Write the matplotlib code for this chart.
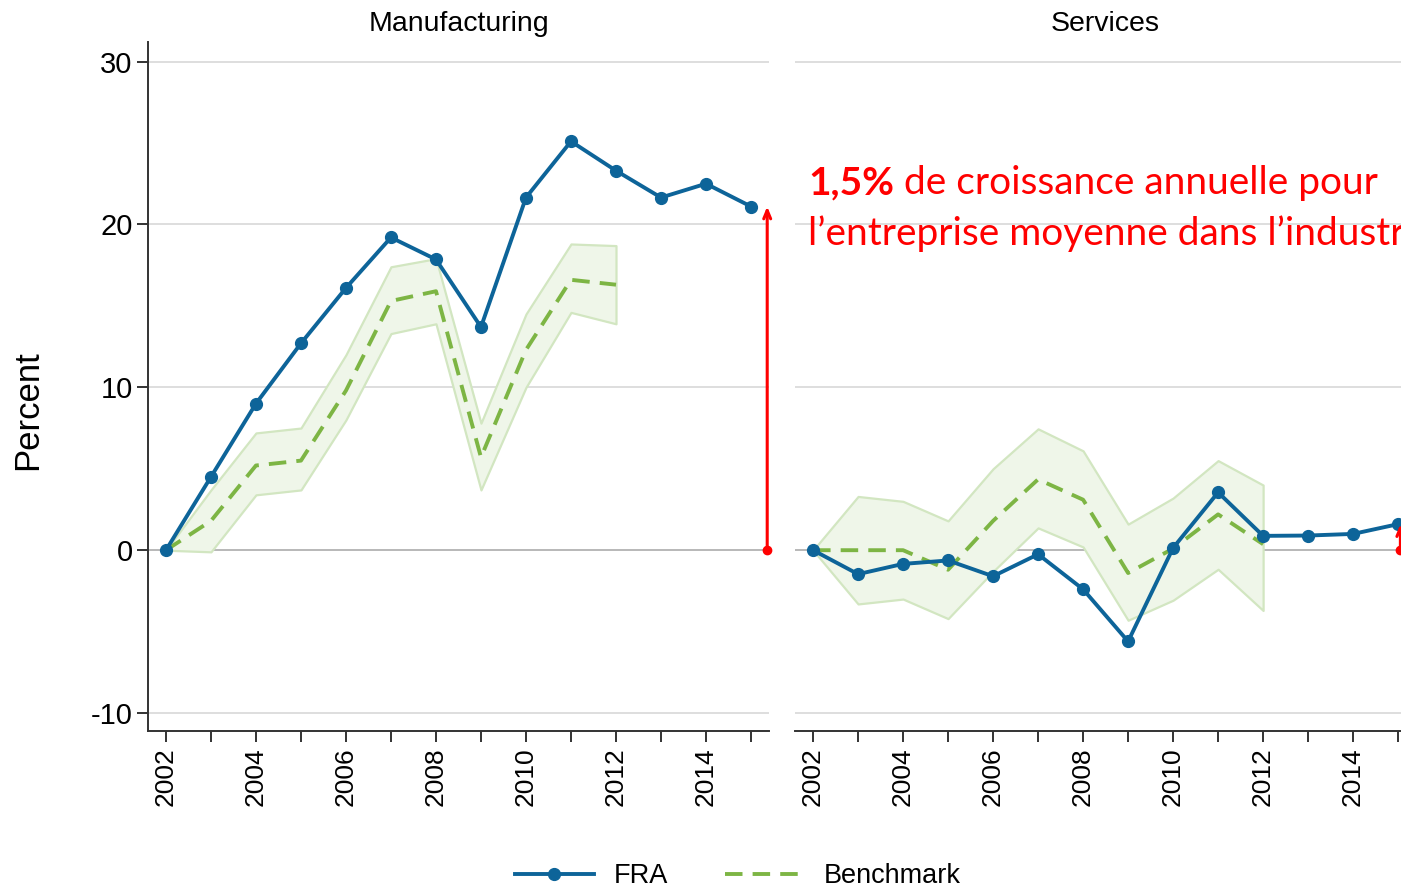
import numpy as np
import matplotlib
matplotlib.use("Agg")
import matplotlib.pyplot as plt
from matplotlib.lines import Line2D

plt.rcParams['font.family'] = ['Liberation Sans', 'DejaVu Sans']

# annees
years = list(range(2002, 2016))
bench_years = list(range(2002, 2013))

# Manufacturing
fra_manuf = [0, 4.5, 9.0, 12.7, 16.1, 19.2, 17.85, 13.7, 21.65, 25.1, 23.3, 21.65, 22.5, 21.1]
bench_manuf = [0, 1.8, 5.2, 5.5, 9.8, 15.3, 15.9, 5.7, 12.3, 16.6, 16.3]
bench_manuf_hi = [0, 3.7, 7.2, 7.5, 12.0, 17.4, 17.9, 7.8, 14.5, 18.8, 18.7]
bench_manuf_lo = [0, -0.1, 3.4, 3.7, 8.0, 13.3, 13.9, 3.7, 10.0, 14.6, 13.9]

# Services
fra_serv = [0, -1.47, -0.84, -0.63, -1.6, -0.25, -2.4, -5.6, 0.14, 3.55, 0.88, 0.9, 1.0, 1.6]
bench_serv = [0, 0, 0, -1.2, 1.8, 4.35, 3.1, -1.4, 0.1, 2.2, 0.37]
bench_serv_hi = [0, 3.3, 3.0, 1.8, 5.0, 7.45, 6.1, 1.6, 3.2, 5.5, 4.0]
bench_serv_lo = [0, -3.3, -3.0, -4.2, -1.3, 1.37, 0.2, -4.3, -3.07, -1.17, -3.7]

panel_titles = ["Manufacturing", "Services"]
yticks = [-10, 0, 10, 20, 30]
xlabels_years = list(range(2002, 2016, 2))

blue = "#0d6499"
green = "#7db544"
band_face = "#eff6e9"
band_edge = "#d2e6c1"
red = "#ff0000"

fig = plt.figure(figsize=(14.01, 8.88), dpi=100)
ax1 = fig.add_axes([0.1056, 0.1768, 0.4433, 0.7759])
ax2 = fig.add_axes([0.5675, 0.1768, 0.4433, 0.7759])

panels = [
    (ax1, fra_manuf, bench_manuf, bench_manuf_lo, bench_manuf_hi),
    (ax2, fra_serv, bench_serv, bench_serv_lo, bench_serv_hi),
]

for i, (ax, fra, bench, lo, hi) in enumerate(panels):
    ax.fill_between(bench_years, lo, hi, facecolor=band_face, edgecolor=band_edge,
                    linewidth=1.6, zorder=2)
    ax.plot(bench_years, bench, color=green, linestyle=(0, (4.5, 2.6)), linewidth=2.8, zorder=3)
    ax.plot(years, fra, color=blue, linewidth=2.8, marker='o', markersize=8.5, zorder=4)

    ax.set_xlim(2001.6, 2015.4)
    ax.set_ylim(-11.1, 31.2)
    ax.set_yticks(yticks)
    ax.set_xticks(years)
    ax.set_xticklabels([str(y) if y in xlabels_years else "" for y in years],
                       rotation=90, fontsize=19)
    for yt in yticks:
        ax.axhline(yt, color="#b8b8b8" if yt == 0 else "#dedede", linewidth=1.4, zorder=1)

    ax.spines['top'].set_visible(False)
    ax.spines['right'].set_visible(False)
    ax.spines['bottom'].set_color("#333333")
    ax.spines['bottom'].set_linewidth(1.4)
    ax.spines['left'].set_color("#333333")
    ax.spines['left'].set_linewidth(1.4)
    ax.tick_params(axis='x', length=8, width=1.4, color="#333333", pad=4)
    ax.tick_params(axis='y', length=8, width=1.4, color="#333333", pad=3)
    ax.set_title(panel_titles[i], fontsize=20.5, pad=8)

ax1.set_yticklabels([str(y) for y in yticks], fontsize=21)
ax2.spines['left'].set_visible(False)
ax2.tick_params(axis='y', left=False, labelleft=False)

# fleche rouge : croissance de l'entreprise moyenne
ax1.annotate("", xy=(2015.36, fra_manuf[-1]), xytext=(2015.36, 0),
             arrowprops=dict(arrowstyle='->,head_length=0.6,head_width=0.25', color=red,
                             lw=2.2, shrinkA=0, shrinkB=0), annotation_clip=False, zorder=6)
ax1.plot([2015.36], [0], 'o', color=red, markersize=6, clip_on=False, zorder=6)
ax2.annotate("", xy=(2015.05, fra_serv[-1]), xytext=(2015.05, 0),
             arrowprops=dict(arrowstyle='->,head_length=0.6,head_width=0.25', color=red,
                             lw=2.2, shrinkA=0, shrinkB=0), annotation_clip=False, zorder=6)
ax2.plot([2015.05], [0], 'o', color=red, markersize=6, clip_on=False, zorder=6)

# texte rouge (partie en gras puis suite)
t1 = fig.text(808 / 1401, 1 - 194 / 888, "1,5%", color=red, fontsize=28, fontweight='bold',
              family='Lato', va='baseline', ha='left')
renderer = fig.canvas.get_renderer()
bb = t1.get_window_extent(renderer=renderer)
fig.text(bb.x1 / fig.bbox.width, 1 - 194 / 888, " de croissance annuelle pour", color=red,
         fontsize=28, family='Lato', va='baseline', ha='left')
fig.text(808 / 1401, 1 - 245 / 888, "l\u2019entreprise moyenne dans l\u2019industrie", color=red,
         fontsize=28, family='Lato', va='baseline', ha='left')

fig.text(28 / 1401, 1 - 410 / 888, "Percent", rotation=90, fontsize=25, ha='center', va='center')

handles = [
    Line2D([], [], color=blue, linewidth=2.8, marker='o', markersize=8.5),
    Line2D([], [], color=green, linewidth=2.8, linestyle=(0, (4.5, 2.6))),
]
fig.legend(handles, ["FRA", "Benchmark"], loc='center', bbox_to_anchor=(738 / 1401, 1 - 876 / 888),
           ncol=2, frameon=False, fontsize=19.5, handlelength=2.9, handletextpad=0.75,
           columnspacing=2.1)

plt.savefig("out.png", dpi=100)
